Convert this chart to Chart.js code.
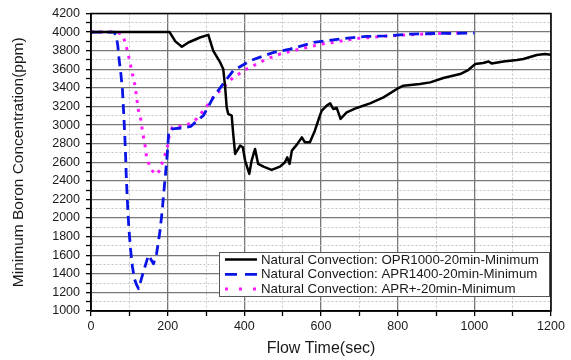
<!DOCTYPE html>
<html><head><meta charset="utf-8">
<script src="https://cdn.jsdelivr.net/npm/chart.js@4/dist/chart.umd.min.js"></script>
<style>html,body{margin:0;padding:0;background:#fff;overflow:hidden}canvas{display:block}</style>
</head><body>
<canvas id="c" width="571" height="360"></canvas>
<script>
// ---- data ----
const seriesLabels = [
  'Natural Convection: OPR1000-20min-Minimum',
  'Natural Convection: APR1400-20min-Minimum',
  'Natural Convection: APR+-20min-Minimum'
];
const oprTime = [0,205,220,237,254,284,306,319,337,345,350,354,358,367,371,376,389,396,402,413,419,428,436,450,471,493,506,512,518,524,537,550,558,571,584,597,602,615,624,632,641,651,667,693,728,763,798,815,858,885,919,963,984,1002,1023,1037,1045,1076,1111,1128,1163,1184,1200];
const oprPpm  = [4000,4000,3900,3842,3888,3942,3970,3799,3674,3602,3405,3190,3119,3101,2905,2690,2779,2761,2618,2475,2618,2743,2582,2553,2518,2553,2600,2653,2582,2725,2790,2868,2815,2815,2940,3101,3155,3209,3234,3173,3184,3066,3137,3184,3234,3298,3388,3423,3441,3459,3506,3549,3592,3656,3667,3684,3663,3684,3699,3710,3753,3764,3756];
const apr1400Time = [0,60,66,70,74,78,82,85,88,90,92,96,99,103,108,113,119,124,134,141,150,163,171,180,186,190,195,199,203,212,240,260,275,293,319,354,371,415,476,519,580,658,719,771,832,900,1000];
const apr1400Ppm  = [4000,4000,3960,3850,3680,3550,3380,3150,2900,2700,2450,2090,1880,1670,1480,1350,1280,1240,1383,1480,1600,1508,1615,1860,2090,2280,2500,2690,2940,2960,2970,2985,3040,3101,3298,3495,3584,3692,3781,3817,3888,3931,3953,3960,3978,3985,3990];
const aprPlusTime = [0,65,80,87,96,108,115,119,123,130,134,141,145,154,167,177,183,190,195,200,204,212,228,250,271,297,319,337,371,406,458,493,545,600,700,800,900,960];
const aprPlusPpm  = [4000,4000,3980,3917,3781,3549,3423,3298,3173,3055,2940,2779,2653,2546,2467,2500,2564,2640,2707,2779,2886,2975,2983,3000,3047,3173,3300,3370,3512,3602,3710,3764,3817,3870,3935,3965,3985,3990];
const xMin = 0, xMax = 1200, xStep = 100, xLabelEvery = 200;
const yMin = 1000, yMax = 4200, yStep = 100, yLabelEvery = 200;
const xTitle = 'Flow Time(sec)';
const yTitle = 'Minimum Boron Concentration(ppm)';

const pts = (t, v) => t.map((x, i) => ({x: x, y: v[i]}));
const FONT = '"Liberation Sans", Arial, sans-serif';

const isMajor = (ctx, every) => ctx.tick && Math.round(ctx.tick.value) % every === 0;

const frame = {
  id: 'frame',
  afterDraw(chart) {
    const {ctx, chartArea: a} = chart;
    ctx.save();
    ctx.strokeStyle = '#000';
    ctx.lineWidth = 1.5;
    ctx.strokeRect(a.left, a.top, a.right - a.left, a.bottom - a.top);
    // legend box
    const bx = a.right - 332, by = a.bottom - 59, bw = 330, bh = 44;
    ctx.fillStyle = '#fff';
    ctx.fillRect(bx, by, bw, bh);
    ctx.strokeStyle = '#555';
    ctx.lineWidth = 1;
    ctx.strokeRect(bx + 0.5, by + 0.5, bw, bh);
    ctx.font = '13.3px ' + FONT;
    ctx.textBaseline = 'middle';
    ctx.textAlign = 'left';
    chart.data.datasets.forEach((ds, i) => {
      const y = by + 7.5 + i * 14.8;
      ctx.save();
      ctx.strokeStyle = ds.borderColor;
      ctx.lineWidth = ds.borderWidth;
      ctx.setLineDash(ds.legendDash || []);
      ctx.beginPath();
      ctx.moveTo(bx + 6, y);
      ctx.lineTo(bx + 38, y);
      ctx.stroke();
      ctx.restore();
      ctx.fillStyle = '#1a1a1a';
      ctx.fillText(ds.label, bx + 42, y + 0.5);
    });
    ctx.restore();
  }
};

new Chart(document.getElementById('c'), {
  type: 'line',
  data: {
    datasets: [
      {label: seriesLabels[0], data: pts(oprTime, oprPpm), borderColor: '#000000', borderWidth: 2.5, borderDash: [], legendDash: []},
      {label: seriesLabels[1], data: pts(apr1400Time, apr1400Ppm), borderColor: '#0a14e6', borderWidth: 2.8, borderDash: [10, 6], legendDash: [12, 8]},
      {label: seriesLabels[2], data: pts(aprPlusTime, aprPlusPpm), borderColor: '#ff1aff', borderWidth: 3, borderDash: [3, 6], legendDash: [3, 11]}
    ]
  },
  options: {
    responsive: false,
    animation: false,
    devicePixelRatio: 1,
    parsing: true,
    elements: {point: {radius: 0}, line: {tension: 0, borderCapStyle: 'butt', borderJoinStyle: 'round'}},
    layout: {padding: {left: 0, right: 20, top: 13, bottom: 0}},
    plugins: {legend: {display: false}, tooltip: {enabled: false}},
    scales: {
      x: {
        type: 'linear', min: xMin, max: xMax,
        afterFit(s) { s.height = 49; },
        ticks: {
          stepSize: xStep, autoSkip: false, maxRotation: 0, padding: 3,
          color: '#1a1a1a', font: {family: FONT, size: 12.5},
          callback: v => (Math.round(v) % xLabelEvery === 0 ? String(v) : '')
        },
        grid: {
          color: c => isMajor(c, xLabelEvery) ? '#777777' : '#c4c4c4',
          lineWidth: c => isMajor(c, xLabelEvery) ? 1.3 : 1,
          tickLength: 5, tickColor: '#000', tickWidth: 1.3
        },
        border: {display: true, color: '#000', width: 1.5, dash: c => (c.tick && !isMajor(c, xLabelEvery)) ? [2, 2] : []},
        title: {display: true, text: xTitle, color: '#1a1a1a', font: {family: FONT, size: 16}, padding: {top: 0, bottom: 2}}
      },
      y: {
        type: 'linear', min: yMin, max: yMax,
        afterFit(s) { s.width = 91; },
        ticks: {
          stepSize: yStep, autoSkip: false, padding: 6,
          color: '#1a1a1a', font: {family: FONT, size: 12.5},
          callback: v => (Math.round(v) % yLabelEvery === 0 ? String(v) : '')
        },
        grid: {
          color: c => isMajor(c, yLabelEvery) ? '#777777' : '#c4c4c4',
          lineWidth: c => isMajor(c, yLabelEvery) ? 1.3 : 1,
          tickLength: 5, tickColor: '#000', tickWidth: 1.3
        },
        border: {display: true, color: '#000', width: 1.5, dash: c => (c.tick && !isMajor(c, yLabelEvery)) ? [2, 2] : []},
        title: {display: true, text: yTitle, color: '#1a1a1a', font: {family: FONT, size: 15.5}, padding: {top: 9, bottom: 0}}
      }
    }
  },
  plugins: [frame]
});
</script>
</body></html>
